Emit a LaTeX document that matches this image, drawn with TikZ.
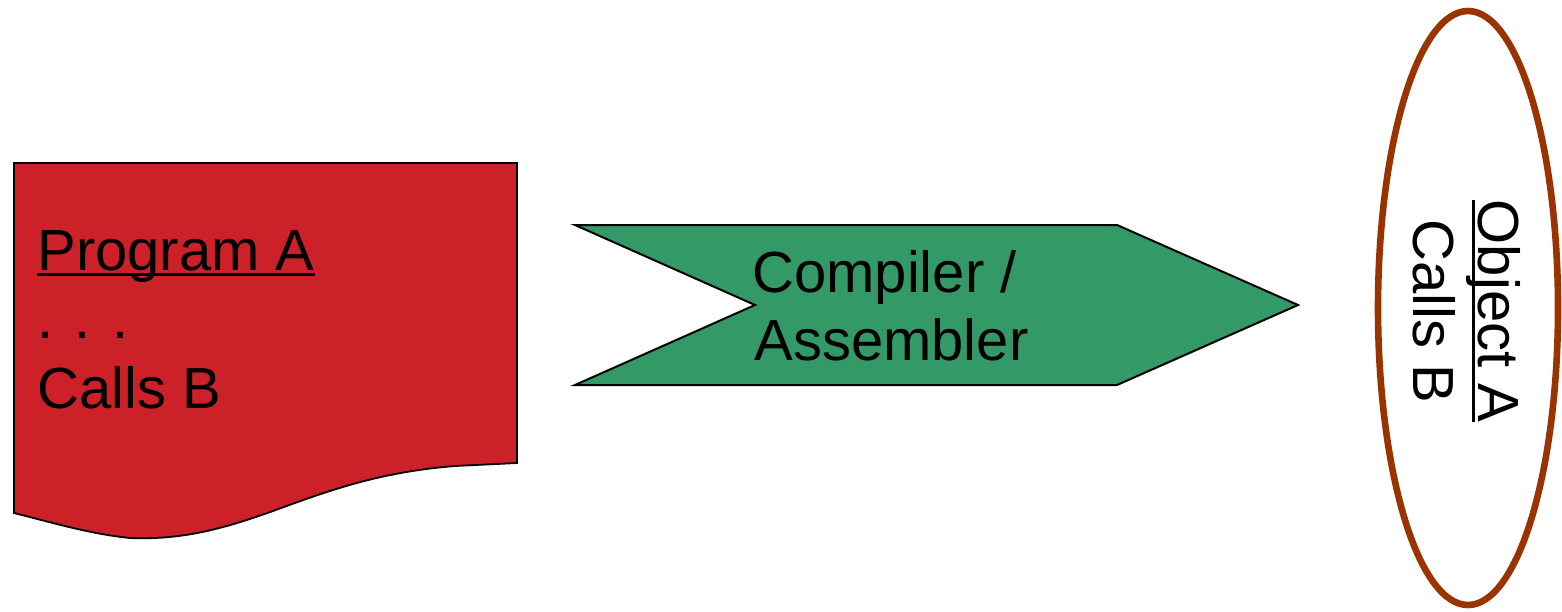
\documentclass[tikz,border=0pt]{standalone}
\usepackage{fontspec}
\setmainfont{Liberation Sans}
\definecolor{docred}{RGB}{204,33,40}
\definecolor{chevgreen}{RGB}{51,153,102}
\definecolor{ringbrown}{RGB}{153,51,0}
% underline that cuts through descenders, as in slide software
\newcommand\ulword[1]{\setbox0\hbox{#1}\rlap{\rule[-0.1em]{\wd0}{0.055em}}\box0}
\tikzset{
  bigtext/.style={font=\fontsize{29pt}{34.5pt}\selectfont, inner sep=0pt},
  docshape/.style={fill=docred, draw=black, line width=0.9pt},
  chevshape/.style={fill=chevgreen, draw=black, line width=1pt},
  ringshape/.style={draw=ringbrown, line width=3.3pt},
}
\begin{document}
\begin{tikzpicture}[x=0.5pt, y=-0.5pt]
\useasboundingbox (0,0) rectangle (1562,611);
% document with a wavy lower edge
\draw[docshape] (14,163) -- (517,163) -- (517,463) -- (455,466)
  .. controls (380,472) and (330,490) .. (273,511)
  .. controls (220,530) and (180,540) .. (130,538)
  .. controls (90,534) and (50,522) .. (14,513) -- cycle;
\node[bigtext, anchor=base west] (progA) at (37,270) {\ulword{Program A}};
\node[bigtext, anchor=base west] (dots) at (37,338) {. . .};
\node[bigtext, anchor=base west] (callsB) at (37,408) {Calls B};
% compiler step as a chevron
\draw[chevshape] (575,225) -- (1117,225) -- (1298,305) -- (1117,385)
  -- (575,385) -- (755,305) -- cycle;
\node[bigtext, anchor=base west] (comp) at (752,292) {Compiler /};
\node[bigtext, anchor=base west] (asm) at (754,360) {Assembler};
% object file as an upright ellipse
\draw[ringshape] (1468,308) ellipse [x radius=90, y radius=297];
\node[bigtext, rotate=-90, anchor=base] (objA) at (1478,311) {\ulword{Object A}};
\node[bigtext, rotate=-90, anchor=base] (objcalls) at (1413,311) {Calls B};
\end{tikzpicture}
\end{document}
